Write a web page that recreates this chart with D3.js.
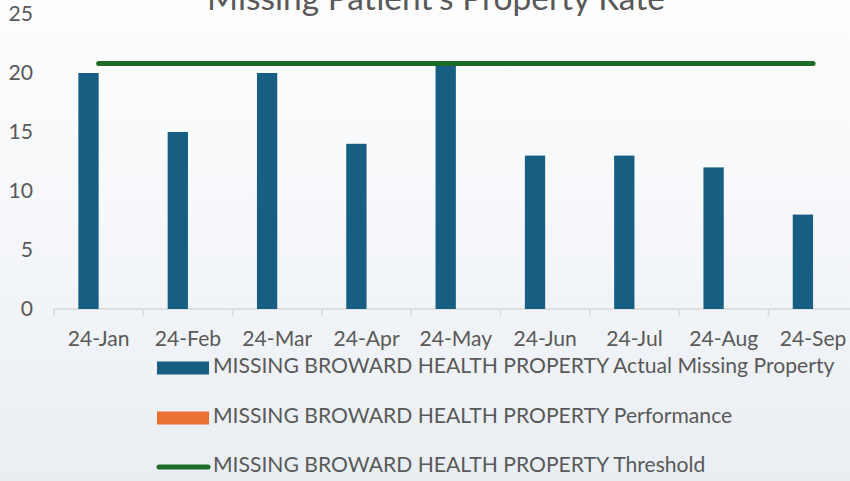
<!DOCTYPE html>
<html><head><meta charset="utf-8">
<script src="https://cdn.jsdelivr.net/npm/d3@7"></script>
<style>html,body{margin:0;padding:0;overflow:hidden;}svg{display:block;}</style>
</head><body>
<svg id="c" width="850" height="481"></svg>
<script>
const months = ["24-Jan","24-Feb","24-Mar","24-Apr","24-May","24-Jun","24-Jul","24-Aug","24-Sep"];
const actualValues = [20,15,20,14,21,13,13,12,8];
const performanceValues = [0,0,0,0,0,0,0,0,0];
const thresholdValues = [20.8,20.8,20.8,20.8,20.8,20.8,20.8,20.8,20.8];
const yTicks = [0,5,10,15,20,25];
const seriesNames = ["MISSING BROWARD HEALTH PROPERTY Actual Missing Property","MISSING BROWARD HEALTH PROPERTY Performance","MISSING BROWARD HEALTH PROPERTY Threshold"];
const titleText = "Missing Patient's Property Rate";

const FONT = "Lato, 'Open Sans', sans-serif";
const TXT = "#595959";
const svg = d3.select("#c");
const W = 850, H = 481;

const defs = svg.append("defs");
const g = defs.append("linearGradient").attr("id","bg").attr("x1",0).attr("y1",0).attr("x2",0).attr("y2",1);
g.append("stop").attr("offset","0%").attr("stop-color","#fdfdfe");
g.append("stop").attr("offset","35%").attr("stop-color","#f8f9fb");
g.append("stop").attr("offset","100%").attr("stop-color","#e9eef3");
svg.append("rect").attr("width",W).attr("height",H).attr("fill","url(#bg)");

const x = d3.scaleBand().domain(months).range([54, 54 + 89.3*9]).paddingInner(0).paddingOuter(0);
const xs = d3.scaleBand().domain(["actual","performance"]).range([0, x.bandwidth()]).paddingInner(0).paddingOuter(1.2);
const y = d3.scaleLinear().domain([0,25]).range([309,14]);

function fit(sel, target){
  const n = sel.node();
  const w = n.getComputedTextLength();
  const fs = parseFloat(sel.attr("font-size"));
  sel.attr("font-size", fs*target/w);
  return fs*target/w;
}

// title
const t = svg.append("text").attr("x",436).attr("y",10).attr("text-anchor","middle")
  .attr("font-family",FONT).attr("font-size",30).attr("fill",TXT).text(titleText);
fit(t, 458);

// y labels
const yl = svg.append("g");
yTicks.forEach(v=>{
  yl.append("text").attr("x",33).attr("y",y(v)).attr("dy","0.35em").attr("text-anchor","end")
    .attr("font-family",FONT).attr("font-size",23).attr("fill",TXT).text(v);
});

// x axis
const xAxis = d3.axisBottom(x).tickSize(0).tickPadding(0);
const xa = svg.append("g").attr("transform","translate(0,309)").call(xAxis);
xa.select(".domain").remove();
xa.append("line").attr("x1",54).attr("x2",W).attr("y1",0).attr("y2",0).attr("stroke","#d9d9d9").attr("stroke-width",1.5);
months.forEach(m=>{
  xa.append("line").attr("x1",x(m)).attr("x2",x(m)).attr("y1",0).attr("y2",7).attr("stroke","#d9d9d9").attr("stroke-width",1.5);
});
xa.selectAll(".tick text").attr("font-family",FONT).attr("font-size",23).attr("fill",TXT).attr("dy",null).attr("y",32).attr("dominant-baseline","middle");
// fit tick font
{
  const tt = xa.select(".tick text");
  const w = tt.node().getComputedTextLength();
  const fs = 23*62/w;
  xa.selectAll(".tick text").attr("font-size",fs);
  yl.selectAll("text").attr("font-size",fs);
}

// bars
svg.append("g").selectAll("rect.a").data(months).join("rect")
  .attr("x",d=>x(d)+xs("actual")).attr("width",xs.bandwidth())
  .attr("y",(d,i)=>y(actualValues[i])).attr("height",(d,i)=>y(0)-y(actualValues[i]))
  .attr("fill","#165e82");
svg.append("g").selectAll("rect.p").data(months).join("rect")
  .attr("x",d=>x(d)+xs("performance")).attr("width",xs.bandwidth())
  .attr("y",(d,i)=>y(performanceValues[i])).attr("height",(d,i)=>y(0)-y(performanceValues[i]))
  .attr("fill","#ea7131");

// threshold line
const line = d3.line().x((d,i)=>x(months[i])+x.bandwidth()/2).y(d=>y(d));
svg.append("path").attr("d",line(thresholdValues)).attr("fill","none")
  .attr("stroke","#1d6b27").attr("stroke-width",5).attr("stroke-linecap","round");

// legend
const lg = svg.append("g");
const rows = [368,418,467];
lg.append("rect").attr("x",157).attr("y",rows[0]-6.5).attr("width",52).attr("height",13).attr("fill","#165e82");
lg.append("rect").attr("x",157).attr("y",rows[1]-6.5).attr("width",52).attr("height",13).attr("fill","#ea7131");
lg.append("line").attr("x1",159).attr("x2",208).attr("y1",rows[2]).attr("y2",rows[2]).attr("stroke","#1d6b27").attr("stroke-width",5).attr("stroke-linecap","round");
const lt = seriesNames.map((s,i)=> lg.append("text").attr("x",213).attr("y",rows[i]).attr("dominant-baseline","middle")
  .attr("font-family",FONT).attr("font-size",21).attr("fill",TXT).text(s));
const lfs = fit(lt[0], 622);
lt.forEach(s=>s.attr("font-size",lfs));
</script>
</body></html>
